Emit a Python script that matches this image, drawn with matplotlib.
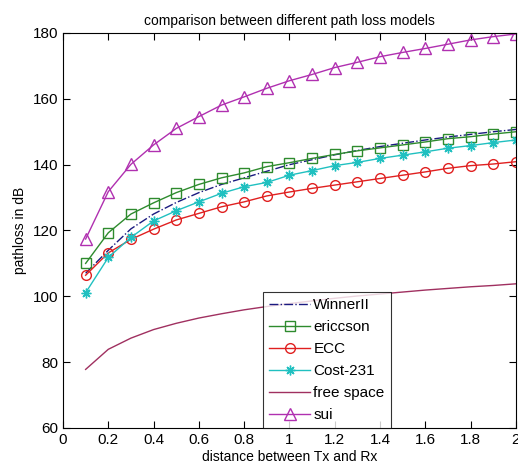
import numpy as np
from matplotlib import pyplot as plt

## data
distance = np.round(np.arange(1, 21) * 0.1, 1)

winner2 = [107.0, 114.0, 120.5, 125.0, 128.5, 131.5, 134.0, 136.0, 138.0, 140.0,
           141.5, 143.0, 144.3, 145.5, 146.5, 147.5, 148.4, 149.2, 150.0, 150.7]
ericsson = [110.0, 119.3, 125.0, 128.4, 131.5, 134.0, 136.0, 137.5, 139.4, 140.6,
            141.9, 143.1, 144.2, 145.1, 146.0, 146.9, 147.9, 148.5, 149.3, 150.0]
ecc = [106.4, 113.2, 117.3, 120.4, 123.2, 125.2, 127.2, 128.7, 130.5, 131.7,
       132.8, 133.8, 134.8, 135.8, 136.8, 137.8, 138.9, 139.7, 140.2, 140.9]
cost231 = [101.1, 111.8, 117.9, 122.9, 126.0, 128.7, 131.3, 133.3, 134.6, 136.8,
           138.2, 139.7, 140.7, 141.9, 142.9, 143.9, 145.0, 145.8, 146.7, 147.5]
freespace = [77.8, 83.9, 87.3, 89.9, 91.8, 93.4, 94.7, 95.9, 96.9, 97.8,
             98.6, 99.4, 100.1, 100.7, 101.3, 101.9, 102.4, 102.9, 103.3, 103.8]
sui = [117.4, 131.8, 140.1, 146.0, 151.0, 154.6, 158.1, 160.6, 163.2, 165.5,
       167.4, 169.5, 171.1, 172.8, 174.1, 175.3, 176.6, 177.9, 178.9, 179.7]

## figure
plt.rcParams['font.family'] = ['Liberation Sans', 'DejaVu Sans']
fig = plt.figure(figsize=(5.18, 4.70), dpi=100)
ax = fig.add_axes([0.1216, 0.0894, 0.8745, 0.8404])

ax.plot(distance, winner2, '-.', color='#1a1a80', linewidth=1, label='WinnerII')
ax.plot(distance, ericsson, '-s', color='#2e8b2e', linewidth=1, markersize=7,
        markerfacecolor='none', label='ericcson')
ax.plot(distance, ecc, '-o', color='#e02020', linewidth=1, markersize=7,
        markerfacecolor='none', label='ECC')
ax.plot(distance, cost231, '-', marker=(8, 2, 0), color='#20c0c0', linewidth=1,
        markersize=7, label='Cost-231')
ax.plot(distance, freespace, '-', color='#a03060', linewidth=1, label='free space')
ax.plot(distance, sui, '-^', color='#b030b0', linewidth=1, markersize=8,
        markerfacecolor='none', label='sui')

ax.set_xlim(0, 2)
ax.set_ylim(60, 180)
ax.set_xticks(np.arange(0, 2.01, 0.2))
ax.set_xticklabels(['0', '0.2', '0.4', '0.6', '0.8', '1', '1.2', '1.4', '1.6', '1.8', '2'])
ax.set_yticks(np.arange(60, 181, 20))
ax.tick_params(direction='in', top=True, right=True, labelsize=11, length=5)

ax.set_title('comparison between different path loss models', fontsize=10)
ax.set_xlabel('distance between Tx and Rx', fontsize=10, labelpad=2)
ax.set_ylabel('pathloss in dB', fontsize=10)

leg = ax.legend(loc='lower left', bbox_to_anchor=(0.4415, 0.0), borderaxespad=0,
                fancybox=False, edgecolor='black', fontsize=11, handlelength=2.7,
                labelspacing=0.52, handletextpad=0.2, borderpad=0.4)
leg.get_frame().set_linewidth(0.8)

fig.savefig('out.png', dpi=100)
